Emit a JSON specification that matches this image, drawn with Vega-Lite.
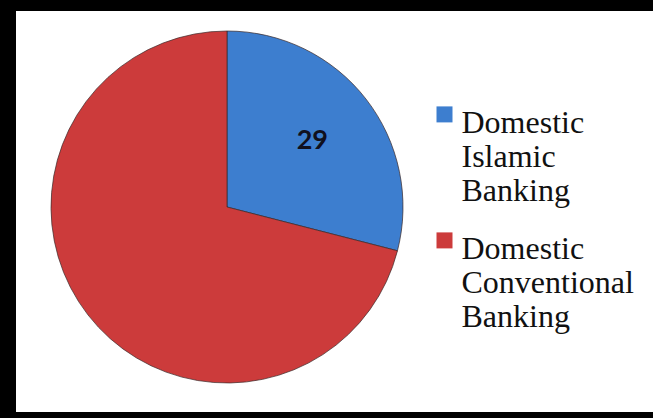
{
  "$schema": "https://vega.github.io/schema/vega-lite/v6.json",
  "width": 637,
  "height": 401,
  "autosize": {"type": "none"},
  "padding": {"left": 16, "top": 11, "bottom": 6, "right": 0},
  "background": "black",
  "view": {"stroke": null, "fill": "white"},
  "data": {"values": [
    {"category": "Domestic Islamic Banking", "value": 29, "order": 1},
    {"category": "Domestic Conventional Banking", "value": 71, "order": 2}
  ]},
  "encoding": {
    "theta": {"field": "value", "type": "quantitative", "stack": true},
    "order": {"field": "order", "type": "quantitative"}
  },
  "layer": [
    {
      "mark": {"type": "arc", "outerRadius": 176, "x": 211, "y": 196, "stroke": "#3a2a2a", "strokeWidth": 1, "strokeOpacity": 0.7},
      "encoding": {
        "color": {
          "field": "category", "type": "nominal",
          "sort": ["Domestic Islamic Banking", "Domestic Conventional Banking"],
          "scale": {"domain": ["Domestic Islamic Banking", "Domestic Conventional Banking"], "range": ["#3D7ECF", "#CC3B3B"]},
          "legend": {
            "title": null,
            "orient": "none",
            "legendX": 412.5,
            "legendY": 81,
            "symbolType": "M-1,-0.2L1,-0.2L1,1.8L-1,1.8Z",
            "symbolSize": 256,
            "symbolStrokeWidth": 0,
            "labelFont": "Liberation Serif",
            "labelFontSize": 32,
            "labelColor": "#111111",
            "labelLimit": 400,
            "labelOffset": 1,
            "labelBaseline": "top",
            "labelExpr": "split(datum.label, ' ')",
            "rowPadding": 11,
            "encode": {"labels": {"update": {"lineHeight": {"value": 35}}}}
          }
        }
      }
    },
    {
      "transform": [{"filter": "datum.order == 1"}],
      "mark": {"type": "text", "radius": 108, "x": 211, "y": 196, "font": "Lato", "fontWeight": "bold", "fontSize": 27, "color": "#10101e"},
      "encoding": {"text": {"field": "value", "type": "quantitative"}}
    }
  ]
}
